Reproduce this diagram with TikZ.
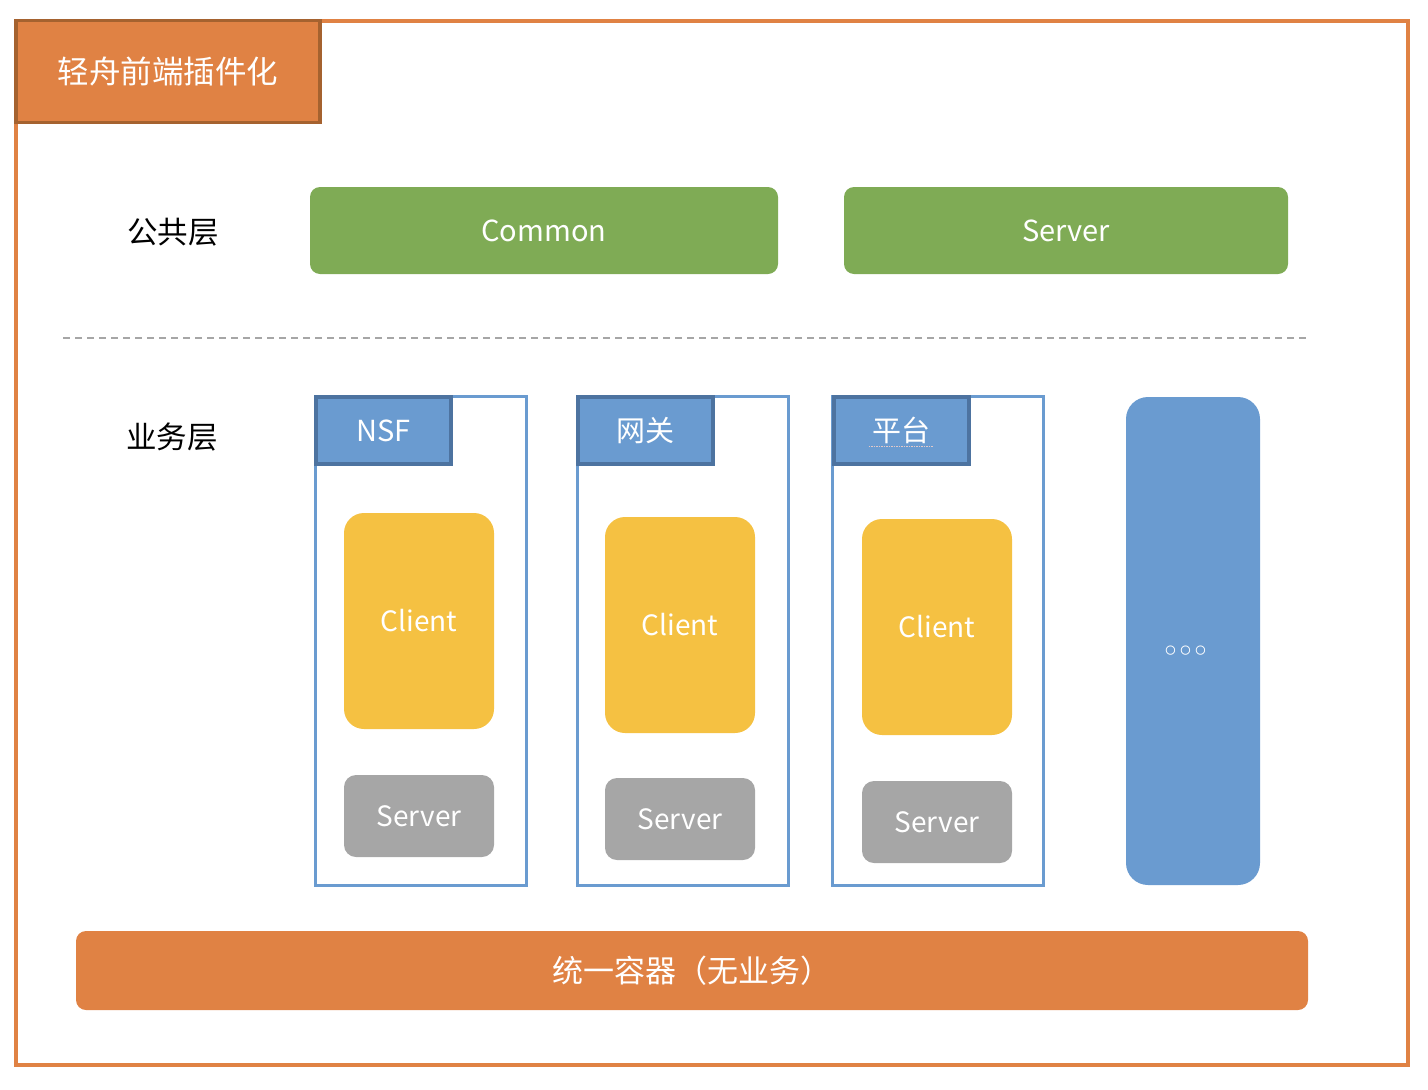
\documentclass[tikz,border=0pt]{standalone}
\usepackage{fontspec}
\setmainfont{Noto Sans CJK SC}
\newfontfamily\dotfont{DejaVu Sans}
\definecolor{qzorange}{HTML}{E08244}
\definecolor{qzbrown}{HTML}{A5622F}
\definecolor{qzgreen}{HTML}{7FAB55}
\definecolor{qzblue}{HTML}{6A9BD0}
\definecolor{qzdarkblue}{HTML}{4D73A0}
\definecolor{qzyellow}{HTML}{F5C142}
\definecolor{qzgray}{HTML}{A6A6A6}
\begin{document}
\begin{tikzpicture}[x=1pt,y=-1pt]
\tikzstyle{frame}=[draw=qzorange, line width=3.5pt, inner sep=0pt]
\tikzstyle{title}=[draw=qzbrown, fill=qzorange, line width=3.5pt, text=white, font=\fontsize{31.5}{36}\selectfont]
\tikzstyle{layer}=[font=\fontsize{30.5}{36}\selectfont]
\tikzstyle{common}=[fill=qzgreen, rounded corners=10pt, minimum height=87pt, text=white, font=\fontsize{29}{35}\selectfont]
\tikzstyle{module}=[draw=qzblue, line width=3pt, minimum width=211pt, minimum height=489pt]
\tikzstyle{tab}=[draw=qzdarkblue, fill=qzblue, line width=4pt, minimum width=135pt, minimum height=67pt, text=white, font=\fontsize{29}{35}\selectfont]
\tikzstyle{client}=[fill=qzyellow, rounded corners=20pt, minimum width=150pt, minimum height=216pt, text=white, font=\fontsize{28}{34}\selectfont]
\tikzstyle{server}=[fill=qzgray, rounded corners=12pt, minimum width=150pt, minimum height=82pt, text=white, font=\fontsize{28}{34}\selectfont]
\tikzstyle{divider}=[draw=qzgray, line width=1.5pt, dash pattern=on 7pt off 5pt]

\useasboundingbox (0,0) rectangle (1428,1090);

% Outer frame and title
\node[frame, minimum width=1392pt, minimum height=1044pt] (frame) at (712,543) {};
\node[title, minimum width=304pt, minimum height=102pt] (title) at (168,71.5) {轻舟前端插件化};

% Common layer
\node[layer] (commonlabel) at (173,232) {公共层};
\node[common, minimum width=468pt] (common) at (544,230.5) {Common};
\node[common, minimum width=444pt] (commonserver) at (1066,230.5) {Server};

% Divider
\coordinate (divleft) at (63,338);
\coordinate (divright) at (1310,338);
\draw[divider] (divleft) -- (divright);

% Business layer
\node[layer] (bizlabel) at (172,437) {业务层};

\node[module] (nsf) at (420.5,641) {};
\node[module] (gateway) at (682.5,641) {};
\node[module] (platform) at (938,641) {};

\node[tab] (nsftab) at (383.5,430.5) {NSF};
\node[tab] (gatewaytab) at (645.5,430.5) {网关};
\node[tab] (platformtab) at (901.5,430.5) {平台};
\draw[densely dotted, line width=1.5pt, color=pink!60!gray!60] ([xshift=-33pt,yshift=-16pt]platformtab.center) -- ([xshift=31pt,yshift=-16pt]platformtab.center);

\node[client] (nsfclient) at (419,621) {Client};
\node[client] (gatewayclient) at (680,625) {Client};
\node[client] (platformclient) at (937,627) {Client};

\node[server] (nsfserver) at (419,816) {Server};
\node[server] (gatewayserver) at (680,819) {Server};
\node[server] (platformserver) at (937,822) {Server};

\node[fill=qzblue, rounded corners=22pt, minimum width=134pt, minimum height=488pt] (more) at (1193,641) {};
\node[text=white, font=\dotfont\fontsize{32}{36}\selectfont] (moredots) at ([xshift=-7pt,yshift=-13pt]more.center) {◦\kern-4pt◦\kern-4pt◦};

% Container
\node[fill=qzorange, rounded corners=10pt, minimum width=1232pt, minimum height=79pt, text=white, font=\fontsize{31}{36}\selectfont] (container) at (692,970.5) {统一容器（无业务）};
\end{tikzpicture}
\end{document}
